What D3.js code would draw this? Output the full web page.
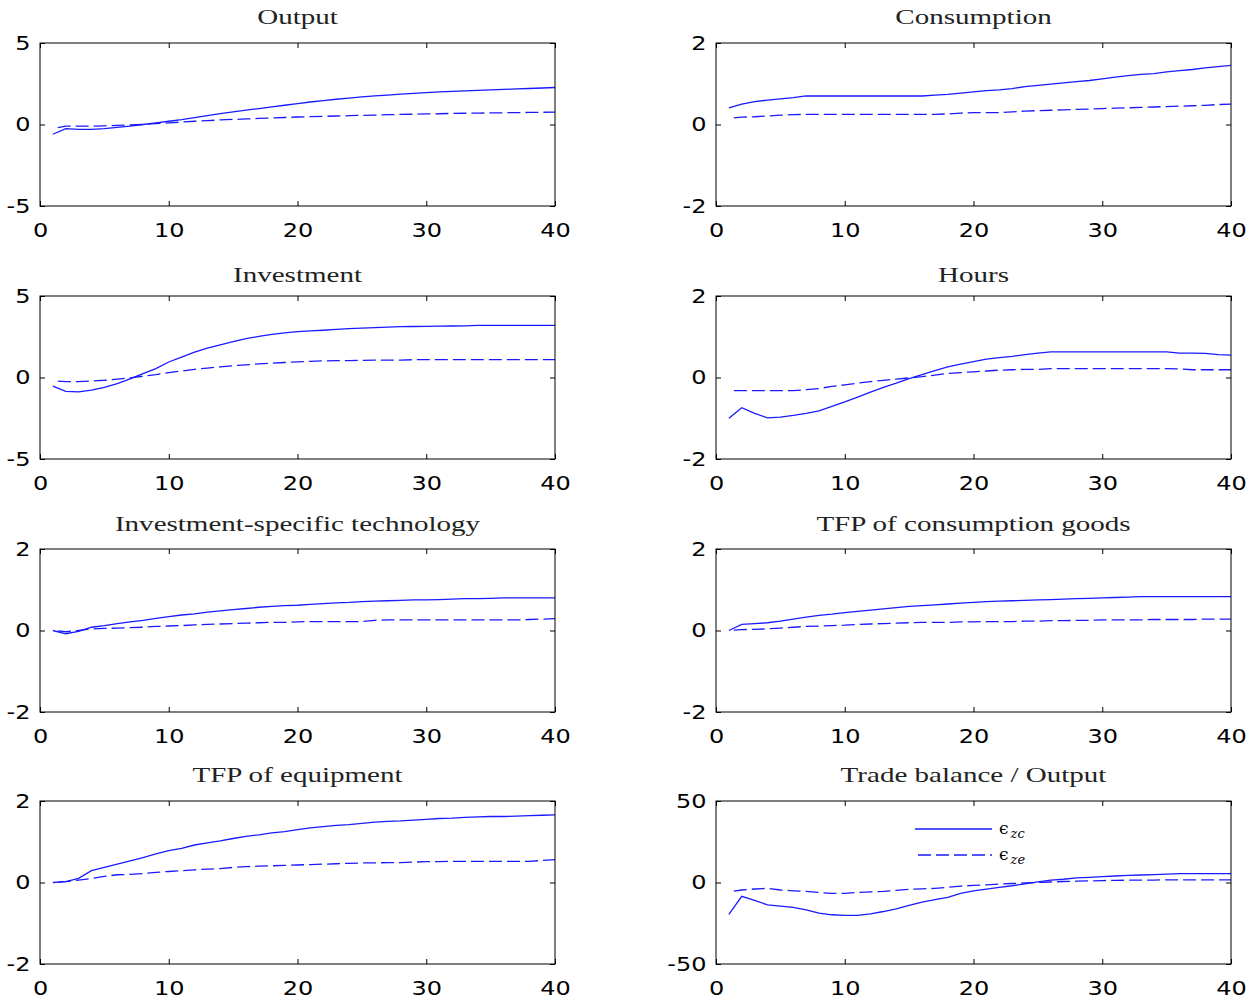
<!DOCTYPE html>
<html><head><meta charset="utf-8">
<script src="https://cdn.jsdelivr.net/npm/d3@7"></script>
<style>body{margin:0;background:#fff}</style>
</head><body>
<svg id="chart" width="1256" height="1002"></svg>
<script>
// ---------------- data ----------------
const periods = d3.range(1, 41);
const xTicks = [0, 10, 20, 30, 40];
const titles = ["Output", "Consumption", "Investment", "Hours",
  "Investment-specific technology", "TFP of consumption goods",
  "TFP of equipment", "Trade balance / Output"];
const yTickSets = [[-5, 0, 5], [-2, 0, 2], [-5, 0, 5], [-2, 0, 2],
  [-2, 0, 2], [-2, 0, 2], [-2, 0, 2], [-50, 0, 50]];
const legendNames = [["ϵ", "zc"], ["ϵ", "ze"]];

const outputZc = [-0.6,-0.25,-0.3,-0.3,-0.25,-0.18,-0.1,0.0,0.1,0.2,0.3,0.42,0.55,0.67,0.78,0.88,0.98,1.08,1.18,1.28,1.38,1.47,1.55,1.62,1.69,1.75,1.8,1.86,1.91,1.96,2.0,2.03,2.06,2.09,2.12,2.15,2.18,2.21,2.24,2.27];
const outputZe = [-0.25,-0.1,-0.1,-0.1,-0.08,-0.05,-0.03,0.0,0.05,0.1,0.15,0.2,0.24,0.28,0.31,0.34,0.37,0.4,0.43,0.46,0.48,0.5,0.52,0.54,0.56,0.58,0.6,0.62,0.63,0.65,0.66,0.68,0.69,0.7,0.71,0.72,0.73,0.74,0.75,0.76];
const consZc = [0.41,0.5,0.56,0.6,0.63,0.66,0.7,0.7,0.7,0.7,0.7,0.7,0.7,0.7,0.7,0.7,0.72,0.74,0.77,0.8,0.83,0.85,0.88,0.93,0.96,0.99,1.02,1.05,1.08,1.12,1.16,1.2,1.23,1.25,1.29,1.32,1.35,1.39,1.42,1.45];
const consZe = [0.15,0.18,0.19,0.21,0.23,0.24,0.25,0.25,0.25,0.25,0.25,0.25,0.25,0.25,0.25,0.25,0.25,0.26,0.28,0.29,0.29,0.29,0.31,0.33,0.34,0.35,0.36,0.37,0.38,0.39,0.4,0.41,0.42,0.43,0.44,0.45,0.46,0.47,0.49,0.5];
const invZc = [-0.53,-0.85,-0.88,-0.78,-0.6,-0.38,-0.08,0.24,0.55,0.95,1.25,1.55,1.8,2.0,2.2,2.38,2.52,2.64,2.74,2.82,2.86,2.9,2.95,3.0,3.03,3.06,3.09,3.12,3.13,3.14,3.15,3.16,3.17,3.2,3.2,3.2,3.2,3.2,3.2,3.2];
const invZe = [-0.2,-0.25,-0.25,-0.22,-0.17,-0.1,-0.02,0.08,0.18,0.3,0.4,0.5,0.58,0.65,0.72,0.78,0.83,0.88,0.92,0.96,0.99,1.02,1.03,1.04,1.05,1.06,1.06,1.07,1.09,1.1,1.1,1.1,1.1,1.1,1.1,1.1,1.1,1.1,1.1,1.1];
const hoursZc = [-1.0,-0.74,-0.88,-0.99,-0.97,-0.93,-0.88,-0.82,-0.71,-0.6,-0.48,-0.36,-0.24,-0.14,-0.03,0.07,0.17,0.26,0.33,0.39,0.45,0.49,0.52,0.56,0.6,0.63,0.63,0.63,0.63,0.63,0.63,0.63,0.63,0.63,0.63,0.6,0.6,0.59,0.56,0.55];
const hoursZe = [-0.32,-0.32,-0.32,-0.32,-0.32,-0.32,-0.3,-0.27,-0.22,-0.18,-0.14,-0.1,-0.07,-0.04,-0.01,0.02,0.06,0.1,0.12,0.14,0.16,0.18,0.19,0.2,0.2,0.22,0.22,0.22,0.22,0.22,0.22,0.22,0.22,0.22,0.22,0.21,0.19,0.19,0.19,0.19];
const istZc = [0,-0.08,-0.02,0.08,0.12,0.17,0.21,0.25,0.3,0.34,0.38,0.41,0.45,0.48,0.51,0.54,0.57,0.59,0.61,0.62,0.64,0.66,0.68,0.69,0.71,0.72,0.73,0.74,0.75,0.75,0.76,0.77,0.78,0.78,0.79,0.8,0.8,0.8,0.8,0.8];
const istZe = [0,-0.03,0.0,0.04,0.05,0.06,0.07,0.08,0.1,0.11,0.12,0.14,0.15,0.16,0.17,0.18,0.19,0.2,0.2,0.21,0.22,0.22,0.22,0.22,0.22,0.25,0.26,0.26,0.26,0.26,0.26,0.26,0.26,0.26,0.26,0.26,0.26,0.27,0.28,0.29];
const tfpcZc = [0,0.15,0.17,0.19,0.23,0.28,0.33,0.37,0.4,0.44,0.47,0.5,0.53,0.56,0.59,0.61,0.63,0.65,0.67,0.69,0.71,0.72,0.73,0.74,0.75,0.76,0.77,0.78,0.79,0.8,0.81,0.82,0.83,0.83,0.83,0.83,0.83,0.83,0.83,0.83];
const tfpcZe = [0,0.02,0.03,0.04,0.06,0.08,0.1,0.11,0.12,0.13,0.15,0.16,0.17,0.18,0.19,0.2,0.2,0.2,0.21,0.21,0.22,0.22,0.22,0.23,0.23,0.24,0.24,0.25,0.25,0.26,0.26,0.26,0.26,0.27,0.27,0.27,0.27,0.28,0.28,0.28];
const tfpeZc = [0,0.02,0.1,0.29,0.37,0.45,0.53,0.61,0.7,0.78,0.84,0.92,0.97,1.02,1.08,1.13,1.17,1.22,1.25,1.3,1.34,1.37,1.4,1.42,1.45,1.48,1.5,1.51,1.53,1.55,1.57,1.58,1.6,1.61,1.62,1.62,1.63,1.64,1.65,1.66];
const tfpeZe = [0,0.02,0.06,0.1,0.15,0.19,0.2,0.22,0.25,0.27,0.29,0.31,0.33,0.34,0.37,0.39,0.4,0.41,0.42,0.43,0.44,0.45,0.46,0.47,0.48,0.48,0.49,0.49,0.5,0.51,0.51,0.52,0.52,0.52,0.52,0.52,0.52,0.52,0.54,0.56];
const tradeZc = [-19.6,-8.5,-11,-13.7,-14.5,-15.2,-16.8,-18.8,-19.8,-20.2,-20.2,-19.2,-17.8,-16.2,-14.1,-12.1,-10.5,-9.1,-6.7,-5.1,-4.0,-3.0,-2.0,-0.8,0.4,1.4,2.0,2.8,3.2,3.6,4.0,4.4,4.6,4.8,5.1,5.5,5.5,5.5,5.5,5.5];
const tradeZe = [-5.7,-4.6,-4.0,-3.6,-4.6,-5.1,-5.5,-6.1,-6.7,-6.7,-6.1,-5.7,-5.5,-4.8,-4.2,-3.9,-3.6,-2.9,-2.2,-1.8,-1.4,-1.0,-0.6,-0.3,0.0,0.3,0.6,0.8,1.0,1.2,1.3,1.4,1.5,1.5,1.6,1.6,1.6,1.6,1.6,1.6];

const seriesZc = [outputZc, consZc, invZc, hoursZc, istZc, tfpcZc, tfpeZc, tradeZc];
const seriesZe = [outputZe, consZe, invZe, hoursZe, istZe, tfpcZe, tfpeZe, tradeZe];

// ---------------- layout ----------------
const colLeft = [40, 716];
const rowTop = [43, 296, 549, 801];
const plotW = 515, plotH = 163;
const titleOffset = [19, 14, 18, 19];
const lineColor = "#1a1aff";
const lineWidth = 1.3;
const dashPattern = "13,5";
const tickFont = "'DejaVu Sans', sans-serif";
const titleFont = "'Liberation Serif', serif";

const svg = d3.select("#chart");
const fmt = d => (d < 0 ? "-" + Math.abs(d) : String(d));

titles.forEach((title, i) => {
  const col = i % 2, row = Math.floor(i / 2);
  const ticks = yTickSets[i];
  const x = d3.scaleLinear().domain([0, 40]).range([0, plotW]);
  const y = d3.scaleLinear().domain([ticks[0], ticks[ticks.length - 1]]).range([plotH, 0]);
  const g = svg.append("g").attr("transform", `translate(${colLeft[col]},${rowTop[row]})`);

  // lines
  const line = d3.line().x((d, k) => x(periods[k])).y(d => y(d));
  g.append("path").datum(seriesZc[i]).attr("d", line)
    .attr("fill", "none").attr("stroke", lineColor).attr("stroke-width", lineWidth);
  g.append("path").datum(seriesZe[i]).attr("d", line)
    .attr("fill", "none").attr("stroke", lineColor).attr("stroke-width", lineWidth)
    .attr("stroke-dasharray", dashPattern).attr("stroke-dashoffset", 13);

  // axes
  const styleAxis = sel => {
    sel.select(".domain").remove();
    sel.selectAll("line").attr("stroke", "#000");
  };
  const bottom = g.append("g").attr("transform", `translate(0,${plotH})`)
    .call(d3.axisBottom(x).tickValues(xTicks).tickSize(-5).tickPadding(17).tickFormat(fmt));
  styleAxis(bottom);
  bottom.selectAll("text").attr("font-family", tickFont).attr("font-size", 20)
    .attr("fill", "#000").attr("transform", "scale(1.2,1)");
  const top = g.append("g").call(d3.axisTop(x).tickValues(xTicks).tickSize(-5).tickFormat(""));
  styleAxis(top);
  const left = g.append("g")
    .call(d3.axisLeft(y).tickValues(ticks).tickSize(-5).tickPadding(8).tickFormat(fmt));
  styleAxis(left);
  left.selectAll("text").attr("font-family", tickFont).attr("font-size", 20)
    .attr("fill", "#000").attr("transform", "scale(1.2,1)");
  const right = g.append("g").attr("transform", `translate(${plotW},0)`)
    .call(d3.axisRight(y).tickValues(ticks).tickSize(-5).tickFormat(""));
  styleAxis(right);

  // frame
  g.append("rect").attr("x", 0).attr("y", 0).attr("width", plotW).attr("height", plotH)
    .attr("fill", "none").attr("stroke", "#000").attr("stroke-width", 1);

  // title
  g.append("text").attr("transform", `translate(${plotW / 2},${-titleOffset[row]}) scale(1.32,1)`)
    .attr("text-anchor", "middle").attr("font-family", titleFont).attr("font-size", 22)
    .attr("fill", "#222").text(title);

  // legend (last panel only)
  if (i === titles.length - 1) {
    const lg = g.append("g").attr("transform", "translate(199,28)");
    legendNames.forEach((nm, k) => {
      const ly = k * 26;
      lg.append("line").attr("x1", k ? 3 : 0).attr("x2", 77).attr("y1", ly).attr("y2", ly)
        .attr("stroke", lineColor).attr("stroke-width", lineWidth)
        .attr("stroke-dasharray", k ? dashPattern : null);
      const t = lg.append("text").attr("x", 84).attr("y", ly + 5)
        .attr("font-family", "'DejaVu Serif', serif").attr("font-size", 17).attr("fill", "#000");
      t.append("tspan").text(nm[0]);
      t.append("tspan").attr("dx", 2).attr("dy", 4).attr("font-size", 13)
        .attr("font-style", "italic").text(nm[1]);
    });
  }
});
</script>
</body></html>
